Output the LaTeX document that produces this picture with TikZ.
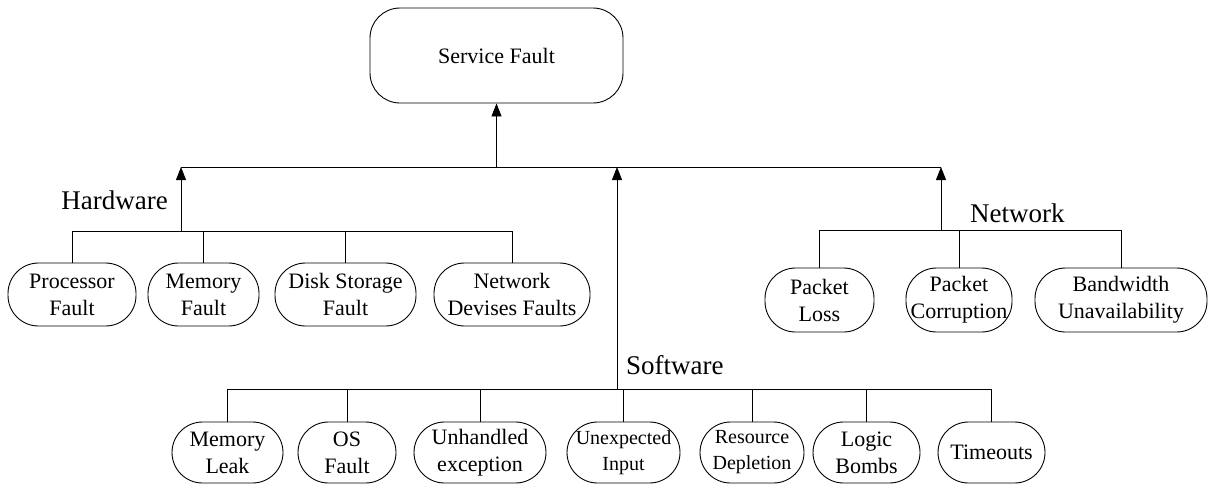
\documentclass[tikz,border=0pt]{standalone}
\usepackage{fontspec}
\setmainfont{Liberation Serif}
\usetikzlibrary{arrows.meta}

\tikzset{
  root/.style={draw, rounded corners=30pt, line width=0.9pt,
    minimum width=253pt, minimum height=95pt, inner sep=0pt,
    font=\fontsize{22}{27}\selectfont},
  leaf/.style={draw, rounded corners=30.5pt, line width=0.9pt,
    minimum height=63pt, inner sep=0pt, align=center,
    font=\fontsize{22}{27}\selectfont},
  smallleaf/.style={leaf, font=\fontsize{20}{26}\selectfont},
  grouplabel/.style={inner sep=0pt, font=\fontsize{27}{30}\selectfont},
  link/.style={line width=0.9pt},
  uparrow/.style={line width=0.9pt, -{Triangle[length=13pt,width=10pt]}}
}

\begin{document}
\begin{tikzpicture}[x=1pt, y=-1pt]
\useasboundingbox (0,0) rectangle (1209,488);

% root
\node[root] (sf) at (496.5,55.5) {Service Fault};

% hardware faults
\node[leaf, minimum width=128pt] (proc)   at (72,294.5)  {Processor\\Fault};
\node[leaf, minimum width=111pt] (memf)   at (203.5,294.5) {Memory\\Fault};
\node[leaf, minimum width=141pt] (disk)   at (345.5,294.5) {Disk Storage\\Fault};
\node[leaf, minimum width=156pt] (netdev) at (512,294.5) {Network\\Devises Faults};

% network faults
\node[leaf, minimum width=109pt, minimum height=64pt] (ploss) at (819.5,300) {Packet\\Loss};
\node[leaf, minimum width=106pt, minimum height=64pt] (pcorr) at (959,300) {Packet\\Corruption};
\node[leaf, minimum width=172pt, minimum height=64pt] (bw)    at (1121,300) {Bandwidth\\Unavailability};

% software faults
\node[leaf, minimum width=111pt, minimum height=61pt] (mleak) at (227.5,452.5) {Memory\\Leak};
\node[leaf, minimum width=98pt,  minimum height=61pt] (osf)   at (347,452.5) {OS\\Fault};
\node[leaf, minimum width=132pt, minimum height=61pt] (unh)   at (480,452.5) {Unhandled\\exception};
\node[smallleaf, minimum width=113pt, minimum height=61pt] (unexp) at (623.5,452.5) {Unexpected\\Input};
\node[smallleaf, minimum width=104pt, minimum height=61pt] (resd)  at (752,452.5) {Resource\\Depletion};
\node[leaf, minimum width=107pt, minimum height=61pt] (logic) at (866.5,452.5) {Logic\\Bombs};
\node[leaf, minimum width=107pt, minimum height=61pt] (tout)  at (991.5,452.5) {Timeouts};

% junction points
\coordinate (top)  at (496.5,167);
\coordinate (hwj)  at (181,231);
\coordinate (swj)  at (617,389);
\coordinate (nwj)  at (941,230);

% group labels
\node[grouplabel, anchor=east] (hwl) at (168,200) {Hardware};
\node[grouplabel, anchor=west] (swl) at (626,365) {Software};
\node[grouplabel, anchor=west] (nwl) at (970,213) {Network};

% top bar and arrow to the root
\draw[link] (hwj |- top) -- (nwj |- top);
\draw[uparrow] (top) -- (sf.south);

% group arrows
\draw[uparrow] (hwj) -- (hwj |- top);
\draw[uparrow] (swj) -- (swj |- top);
\draw[uparrow] (nwj) -- (nwj |- top);

% hardware bar
\draw[link] (proc.north |- hwj) -- (netdev.north |- hwj);
\foreach \n in {proc,memf,disk,netdev}
  \draw[link] (\n.north) -- (\n.north |- hwj);

% network bar
\draw[link] (ploss.north |- nwj) -- (bw.north |- nwj);
\foreach \n in {ploss,pcorr,bw}
  \draw[link] (\n.north) -- (\n.north |- nwj);

% software bar
\draw[link] (mleak.north |- swj) -- (tout.north |- swj);
\foreach \n in {mleak,osf,unh,unexp,resd,logic,tout}
  \draw[link] (\n.north) -- (\n.north |- swj);
\end{tikzpicture}
\end{document}
